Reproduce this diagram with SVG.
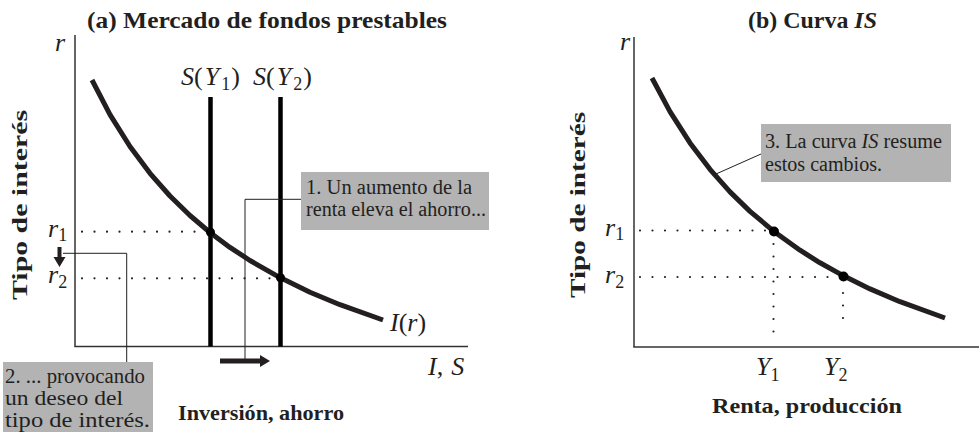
<svg xmlns="http://www.w3.org/2000/svg" width="979" height="432" viewBox="0 0 979 432">
<defs>
<style>
.t{font-family:"Liberation Serif","Times New Roman",serif;fill:#231f20}
.b{font-weight:bold}
.m{font-style:italic}
.axis{stroke:#333;stroke-width:1.5;fill:none}
.curve{stroke:#231f20;stroke-width:5;fill:none;stroke-linecap:butt;stroke-linejoin:round}
.sline{stroke:#000;stroke-width:4.5}
.dot{stroke:#231f20;stroke-width:2.2;stroke-linecap:round;stroke-dasharray:0 12.5;fill:none}
.lead{stroke:#231f20;stroke-width:1;fill:none}
.box{fill:#b3b3b3}
</style>
</defs>
<rect width="979" height="432" fill="#fff"/>

<g id="panel-a">
<text class="t b" x="87" y="28" font-size="23" textLength="360" lengthAdjust="spacingAndGlyphs">(a) Mercado de fondos prestables</text>
<g id="axes-a">
<line class="axis" x1="75" y1="35" x2="75" y2="346.5"/>
<line class="axis" x1="74.3" y1="346.5" x2="468" y2="346.5"/>
<text class="t m" x="60" y="51" font-size="26" text-anchor="middle">r</text>
<text class="t b" transform="translate(27,300) rotate(-90)" font-size="22" textLength="190" lengthAdjust="spacingAndGlyphs">Tipo de interés</text>
<text class="t b" x="178" y="420" font-size="22" textLength="166" lengthAdjust="spacingAndGlyphs">Inversión, ahorro</text>
<text class="t" x="428" y="375" font-size="26"><tspan class="m">I</tspan><tspan>,</tspan><tspan class="m" dx="8">S</tspan></text>
</g>
<g id="s-y1">
<line class="sline" x1="210.5" y1="97" x2="210.5" y2="346.5"/>
<text class="t" x="181" y="85" font-size="26"><tspan class="m">S</tspan><tspan>(</tspan><tspan class="m" dx="2">Y</tspan><tspan font-size="18" dx="2" dy="5">1</tspan><tspan dx="1" dy="-5">)</tspan></text>
</g>
<g id="s-y2">
<line class="sline" x1="280.5" y1="97" x2="280.5" y2="346.5"/>
<text class="t" x="253" y="85" font-size="26"><tspan class="m">S</tspan><tspan>(</tspan><tspan class="m" dx="2">Y</tspan><tspan font-size="18" dx="2" dy="5">2</tspan><tspan dx="1" dy="-5">)</tspan></text>
</g>
<g id="i-curve">
<path class="curve" d="M92,80 L110,114.6 L130,146.5 L150,173.3 L170,196 L190,215.5 L210,232.5 L230,247.4 L250,260.5 L280,277.6 L310,292.2 L340,304.7 L383,320"/>
<text class="t" x="390" y="331" font-size="26"><tspan class="m">I</tspan><tspan>(</tspan><tspan class="m">r</tspan><tspan>)</tspan></text>
</g>
<g id="levels-a">
<line class="dot" x1="82" y1="231.7" x2="206" y2="231.7"/>
<line class="dot" x1="82" y1="278.3" x2="276" y2="278.3"/>
<circle cx="210.5" cy="232.3" r="4.5" fill="#000"/>
<circle cx="280.5" cy="277.8" r="4.5" fill="#000"/>
<text class="t" x="48" y="237" font-size="26"><tspan class="m">r</tspan><tspan font-size="18" dy="4">1</tspan></text>
<text class="t" x="48" y="283" font-size="26"><tspan class="m">r</tspan><tspan font-size="18" dy="5">2</tspan></text>
</g>
</g>

<g id="callout-1">
<rect class="box" x="301" y="172" width="188" height="58"/>
<text class="t" x="306" y="194" font-size="20" textLength="166" lengthAdjust="spacingAndGlyphs">1. Un aumento de la</text>
<text class="t" x="306" y="216" font-size="20" textLength="180" lengthAdjust="spacingAndGlyphs">renta eleva el ahorro...</text>
</g>
<g id="callout-2">
<rect class="box" x="3" y="362" width="150" height="70"/>
<text class="t" x="5" y="383" font-size="20" textLength="140" lengthAdjust="spacingAndGlyphs">2. ... provocando</text>
<text class="t" x="5" y="405" font-size="20" textLength="118" lengthAdjust="spacingAndGlyphs">un deseo del</text>
<text class="t" x="5" y="427" font-size="20" textLength="145" lengthAdjust="spacingAndGlyphs">tipo de interés.</text>
</g>

<g id="panel-b">
<text class="t b" x="748" y="28" font-size="23" textLength="129" lengthAdjust="spacingAndGlyphs">(b) Curva <tspan class="m">IS</tspan></text>
<g id="axes-b">
<line class="axis" x1="634" y1="37" x2="634" y2="347"/>
<line class="axis" x1="633.3" y1="347" x2="979" y2="347"/>
<text class="t m" x="625" y="50" font-size="26" text-anchor="middle">r</text>
<text class="t b" transform="translate(585,298) rotate(-90)" font-size="22" textLength="186" lengthAdjust="spacingAndGlyphs">Tipo de interés</text>
<text class="t b" x="712" y="413" font-size="22" textLength="190" lengthAdjust="spacingAndGlyphs">Renta, producción</text>
</g>
<g id="is-curve">
<path class="curve" d="M652,78 L670,111.6 L690,142.9 L710,169.3 L730,191.9 L750,211.4 L775,232.3 L800,250.2 L820,262.8 L844,276.1 L870,288.9 L900,301.7 L945,318"/>
</g>
<g id="levels-b">
<line class="dot" x1="640" y1="230.5" x2="770" y2="230.5"/>
<line class="dot" x1="640" y1="277" x2="840" y2="277"/>
<line class="dot" x1="773.5" y1="244" x2="773.5" y2="344"/>
<line class="dot" x1="843" y1="293" x2="843" y2="330"/>
<circle cx="774" cy="231.5" r="5" fill="#000"/>
<circle cx="843.5" cy="276.5" r="5" fill="#000"/>
<text class="t" x="605" y="236" font-size="26"><tspan class="m">r</tspan><tspan font-size="18" dy="4">1</tspan></text>
<text class="t" x="605" y="283" font-size="26"><tspan class="m">r</tspan><tspan font-size="18" dy="5">2</tspan></text>
<text class="t" x="756" y="375" font-size="26"><tspan class="m">Y</tspan><tspan font-size="18" dy="6">1</tspan></text>
<text class="t" x="824" y="375" font-size="26"><tspan class="m">Y</tspan><tspan font-size="18" dy="6">2</tspan></text>
</g>
</g>

<g id="callout-3">
<rect class="box" x="761" y="124" width="190" height="58"/>
<text class="t" x="765" y="148" font-size="20" textLength="177" lengthAdjust="spacingAndGlyphs">3. La curva <tspan class="m">IS</tspan> resume</text>
<text class="t" x="765" y="171" font-size="20" textLength="117" lengthAdjust="spacingAndGlyphs">estos cambios.</text>
</g>

<g id="connectors">
<polyline class="lead" points="301,199.3 245,199.3 245,359"/>
<polyline class="lead" points="63,253.3 126.7,253.3 126.7,362"/>
<line class="lead" x1="716" y1="174" x2="761" y2="154"/>
<path d="M220,358.5 H260 V355 L270,361 L260,367 V363.5 H220 Z" fill="#231f20"/>
<path d="M57.5,247 H61.5 V257 H65.5 L59.5,267 L53.5,257 H57.5 Z" fill="#231f20"/>
</g>
</svg>
